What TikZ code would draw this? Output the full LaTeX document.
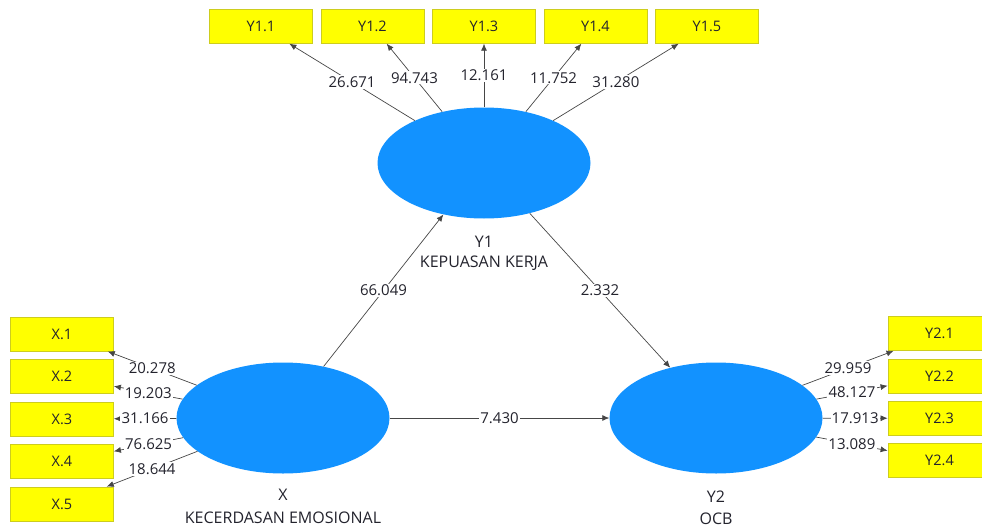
\documentclass[tikz,border=0pt]{standalone}
\usepackage{fontspec}
\setmainfont{Open Sans}
\usetikzlibrary{shapes.geometric,arrows.meta}
\definecolor{lvblue}{RGB}{18,146,255}
\definecolor{boxyel}{RGB}{255,255,0}
\definecolor{boxedge}{RGB}{205,205,30}
\definecolor{linegray}{RGB}{70,70,70}
\definecolor{txt}{RGB}{35,35,45}
\tikzset{
  latent/.style={ellipse,fill=lvblue,draw=none,minimum width=213pt,minimum height=111pt,inner sep=0pt},
  indic/.style={rectangle,fill=boxyel,draw=boxedge,line width=0.8pt,minimum width=103pt,minimum height=34pt,inner sep=0pt,text=txt,font=\fontsize{14.5}{17}\selectfont},
  lvlabel/.style={text=txt,font=\fontsize{16}{19}\selectfont,inner sep=0pt},
  conn/.style={draw=linegray,line width=0.7pt,-{Latex[length=7pt,width=6pt]}},
  val/.style={fill=white,text=txt,font=\fontsize{15}{17}\selectfont,inner sep=1.2pt,midway}
}
\begin{document}
\begin{tikzpicture}[x=1pt,y=-1pt]
\useasboundingbox (0,0) rectangle (982,530);
\clip (0,0) rectangle (982,530);
% latent variables
\node[latent] (Y1) at (484,163) {};
\node[latent] (X) at (283,418) {};
\node[latent] (Y2) at (716,418) {};
\node[lvlabel] (Y1a) at (484,242) {Y1};
\node[lvlabel] (Y1b) at (484,263.5) {KEPUASAN KERJA};
\node[lvlabel] (Xa) at (283,495) {X};
\node[lvlabel] (Xb) at (283,518) {KECERDASAN EMOSIONAL};
\node[lvlabel] (Y2a) at (716,497) {Y2};
\node[lvlabel] (Y2b) at (716,519) {OCB};
% indicators Y1
\node[indic] (y11) at (261,26.3) {Y1.1};
\node[indic] (y12) at (372.5,26.3) {Y1.2};
\node[indic] (y13) at (484,26.3) {Y1.3};
\node[indic] (y14) at (595.5,26.3) {Y1.4};
\node[indic] (y15) at (707,26.3) {Y1.5};
% indicators X
\node[indic] (x1) at (62,334) {X.1};
\node[indic] (x2) at (62,376.5) {X.2};
\node[indic] (x3) at (62,419) {X.3};
\node[indic] (x4) at (62,461.5) {X.4};
\node[indic] (x5) at (62,504) {X.5};
% indicators Y2
\node[indic] (y21) at (939.5,333.5) {Y2.1};
\node[indic] (y22) at (939.5,376) {Y2.2};
\node[indic] (y23) at (939.5,418.3) {Y2.3};
\node[indic] (y24) at (939.5,460.5) {Y2.4};
% outer loadings Y1
\draw[conn] (Y1) -- node[val] {26.671} (y11);
\draw[conn] (Y1) -- node[val] {94.743} (y12);
\draw[conn] (Y1) -- node[val] {12.161} (y13);
\draw[conn] (Y1) -- node[val] {11.752} (y14);
\draw[conn] (Y1) -- node[val] {31.280} (y15);
% outer loadings X
\draw[conn] (X) -- node[val] {20.278} (x1);
\draw[conn] (X) -- node[val] {19.203} (x2);
\draw[conn] (X) -- node[val] {31.166} (x3);
\draw[conn] (X) -- node[val] {76.625} (x4);
\draw[conn] (X) -- node[val] {18.644} (x5);
% outer loadings Y2
\draw[conn] (Y2) -- node[val] {29.959} (y21);
\draw[conn] (Y2) -- node[val] {48.127} (y22);
\draw[conn] (Y2) -- node[val] {17.913} (y23);
\draw[conn] (Y2) -- node[val] {13.089} (y24);
% structural paths
\draw[conn] (X) -- node[val] {66.049} (Y1);
\draw[conn] (Y1) -- node[val] {2.332} (Y2);
\draw[conn] (X) -- node[val] {7.430} (Y2);
\end{tikzpicture}
\end{document}
